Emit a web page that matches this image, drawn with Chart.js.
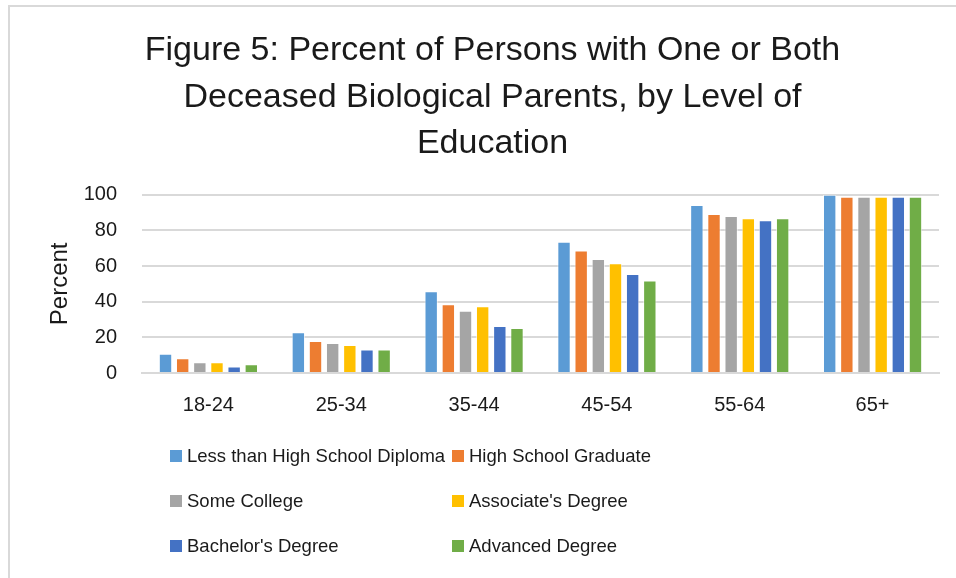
<!DOCTYPE html>
<html>
<head>
<meta charset="utf-8">
<script src="https://cdn.jsdelivr.net/npm/chart.js@4/dist/chart.umd.min.js"></script>
<style>
  html, body { margin: 0; padding: 0; background: #fff; }
  #wrap { position: relative; width: 956px; height: 578px; overflow: hidden; }
  #frame { position: absolute; left: 8px; top: 5px; width: 1000px; height: 1000px;
           border-left: 2px solid #d9d9d9; border-top: 2px solid #d9d9d9; }
  #chart { position: absolute; left: 0; top: 0; }
  #legend { position: absolute; left: 0; top: 0; font-family: "Liberation Sans", Arial, sans-serif;
            font-size: 18.5px; color: #1a1a1a; }
  .item { position: absolute; display: flex; align-items: center; white-space: nowrap; }
  .swatch { width: 12px; height: 12px; margin-right: 5px; }
</style>
</head>
<body>
<div id="wrap">
  <div id="frame"></div>
  <canvas id="chart" width="956" height="578"></canvas>
  <div id="legend"></div>
</div>
<script>
/* ===================================
   DATA
   =================================== */

const ageGroups = ['18-24', '25-34', '35-44', '45-54', '55-64', '65+'];

const lessThanHighSchool = [10.8, 22.8, 45.8, 73.6, 94.2, 100];
const highSchoolGraduate = [8.3, 17.9, 38.5, 68.7, 89.2, 98.9];
const someCollege        = [6.0, 16.8, 34.9, 64.0, 88.1, 98.9];
const associatesDegree   = [6.0, 15.7, 37.4, 61.5, 86.8, 98.9];
const bachelorsDegree    = [3.6, 13.2, 26.4, 55.5, 85.7, 98.9];
const advancedDegree     = [4.9, 13.2, 25.3, 51.9, 86.8, 98.9];

const seriesNames = [
  'Less than High School Diploma', 'High School Graduate',
  'Some College', "Associate's Degree",
  "Bachelor's Degree", 'Advanced Degree',
];
const seriesColors = ['#5b9bd5', '#ed7d31', '#a5a5a5', '#ffc000', '#4472c4', '#70ad47'];

const yTicks = [0, 20, 40, 60, 80, 100];

const titleLines = [
  'Figure 5: Percent of Persons with One or Both',
  'Deceased Biological Parents, by Level of',
  'Education',
];

/* ===================================
   CHART
   =================================== */

const FONT = '"Liberation Sans", Arial, sans-serif';
const TEXT = '#1a1a1a';
const GRID = '#d9d9d9';

const seriesValues = [lessThanHighSchool, highSchoolGraduate, someCollege,
  associatesDegree, bachelorsDegree, advancedDegree];

const datasets = seriesValues.map(function (vals, i) {
  return {
    label: seriesNames[i],
    data: vals,
    backgroundColor: seriesColors[i],
    borderColor: 'rgba(255,255,255,0.6)',
    borderWidth: 1,
    categoryPercentage: 0.775,
    barPercentage: 0.78,
  };
});

const chart = new Chart(document.getElementById('chart'), {
  type: 'bar',
  data: { labels: ageGroups, datasets: datasets },
  options: {
    responsive: false,
    animation: false,
    layout: { padding: { left: 46, right: 17, top: 0, bottom: 149 } },
    scales: {
      x: {
        grid: { display: false },
        border: { color: GRID, width: 2 },
        ticks: { color: TEXT, font: { family: FONT, size: 20 }, padding: 12 },
      },
      y: {
        min: 0,
        max: 100,
        afterBuildTicks: function (scale) {
          scale.ticks = yTicks.map(function (v) { return { value: v }; });
        },
        afterFit: function (scale) { scale.width = 96; },
        grid: { color: GRID, lineWidth: 2, drawTicks: false },
        border: { display: false },
        ticks: { color: TEXT, font: { family: FONT, size: 20 }, padding: 25 },
        title: {
          display: true,
          text: 'Percent',
          color: TEXT,
          font: { family: FONT, size: 24 },
          padding: 0,
        },
      },
    },
    plugins: {
      legend: { display: false },
      tooltip: { enabled: false },
      title: {
        display: true,
        text: titleLines,
        color: TEXT,
        font: { family: FONT, size: 34, weight: 'normal', lineHeight: 1.36 },
        padding: { top: 28, bottom: 28 },
      },
    },
  },
});

/* ===================================
   LEGEND (2 columns, 3 rows)
   =================================== */

const legendEl = document.getElementById('legend');
const colX = [170, 452];
const rowY = [456, 501, 546];
chart.data.datasets.forEach(function (ds, i) {
  const item = document.createElement('div');
  item.className = 'item';
  item.style.left = colX[i % 2] + 'px';
  item.style.top = (rowY[Math.floor(i / 2)] - 12) + 'px';
  item.style.height = '24px';
  const sw = document.createElement('span');
  sw.className = 'swatch';
  sw.style.background = ds.backgroundColor;
  const label = document.createElement('span');
  label.textContent = ds.label;
  item.appendChild(sw);
  item.appendChild(label);
  legendEl.appendChild(item);
});
</script>
</body>
</html>
